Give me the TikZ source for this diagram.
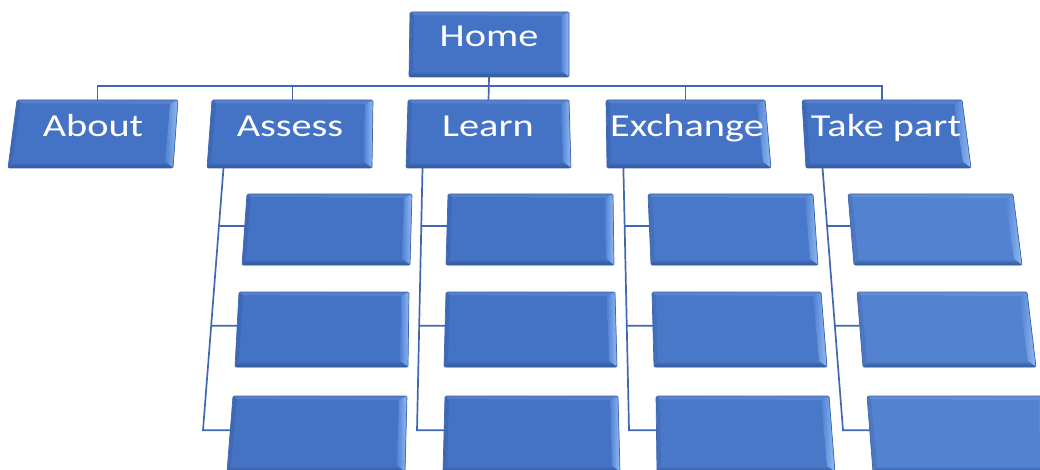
\documentclass[tikz,border=0pt]{standalone}
\usepackage{fontspec}
\setmainfont{Carlito}
\usetikzlibrary{calc}
\definecolor{boxblue}{HTML}{4472C4}
\definecolor{boxblueB}{HTML}{4A78C9}
\definecolor{boxblueC}{HTML}{5382D0}
\definecolor{linecol}{HTML}{4068B2}
\definecolor{bevlight}{HTML}{93BBF2}
\definecolor{bevin}{HTML}{4F80D2}
\definecolor{bevdark}{HTML}{2E5598}
\definecolor{boxedge}{HTML}{3C66B0}

\newcommand{\bbox}[6]{%
  \coordinate (#1-tl) at (#2);
  \coordinate (#1-tr) at (#3);
  \coordinate (#1-br) at (#4);
  \coordinate (#1-bl) at (#5);
  \coordinate (#1-tli) at ($(#1-tl)+(4,3)$);
  \coordinate (#1-tri) at ($(#1-tr)+(-8,4)$);
  \coordinate (#1-bri) at ($(#1-br)+(-8,-6)$);
  \coordinate (#1-bli) at ($(#1-bl)+(4,-6)$);
  \coordinate (#1-n) at ($(#1-tl)!0.5!(#1-tr)$);
  \coordinate (#1-s) at ($(#1-bl)!0.5!(#1-br)$);
  \coordinate (#1-w) at ($(#1-tl)!0.45!(#1-bl)$);
  \fill[#6, rounded corners=1.5pt] (#1-tl) -- (#1-tr) -- (#1-br) -- (#1-bl) -- cycle;
  \fill[black, opacity=0.07] (#1-tl) -- (#1-tli) -- (#1-bli) -- (#1-bl) -- cycle;
  \fill[white, opacity=0.10] (#1-tl) -- (#1-tr) -- (#1-tri) -- (#1-tli) -- cycle;
  \shade[left color=bevin, right color=bevlight] (#1-tri) -- (#1-tr) -- (#1-br) -- (#1-bri) -- cycle;
  \shade[top color=#6, bottom color=bevdark] (#1-bli) -- (#1-bri) -- (#1-br) -- (#1-bl) -- cycle;
  \draw[boxedge, line width=0.7pt, line join=round, rounded corners=1.5pt] (#1-tl) -- (#1-tr) -- (#1-br) -- (#1-bl) -- cycle;
}

\tikzset{
  lbl/.style={anchor=base, text=white, inner sep=0pt, font=\fontsize{32}{32}\selectfont},
  conn/.style={draw=linecol, line width=1.7pt}
}

\begin{document}
\begin{tikzpicture}[x=1pt, y=-1pt]
\useasboundingbox (0,0) rectangle (1040,470);
\clip (0,0) rectangle (1040,470);

\coordinate (busy) at (0,86);

% level 0 and 1 boxes
\bbox{home}{410,12}{569,12}{569,77}{409,77}{boxblue}
\bbox{about}{17,100}{178,100}{173,168}{8,168}{boxblue}
\bbox{assess}{212,100}{373,100}{372,168}{207,168}{boxblue}
\bbox{learn}{408,100}{569,100}{571,168}{406,168}{boxblue}
\bbox{exch}{606,100}{765,100}{771,168}{607,168}{boxblue}
\bbox{take}{802,100}{962,100}{971,168}{806,168}{boxblue}

% ---- connectors (level 1) ----
\draw[conn] (about-n) |- (take-n |- busy) -- (take-n);
\draw[conn] (assess-n) -- (assess-n |- busy);
\draw[conn] (exch-n) -- (exch-n |- busy);
\draw[conn] (home-s) -- (learn-n);

% ---- trunk coordinates ----
\coordinate (ast) at (223.5,168);   \coordinate (asb) at (203,430.2);
\coordinate (lnt) at (422.5,168);   \coordinate (lnb) at (417,430.2);
\coordinate (ext) at (623.4,168);   \coordinate (exb) at (629,430.2);
\coordinate (tkt) at (822.5,168);   \coordinate (tkb) at (843,430.2);
\coordinate (asj1) at (218.7,225.95); \coordinate (asj2) at (211.2,325.75);
\coordinate (lnj1) at (421.3,225.95); \coordinate (lnj2) at (419.2,325.75);
\coordinate (exj1) at (624.6,225.95); \coordinate (exj2) at (626.7,325.75);
\coordinate (tkj1) at (827.0,225.95); \coordinate (tkj2) at (834.7,325.75);

% children boxes
\bbox{a1}{247,194}{412,194}{410,265}{242,265}{boxblue}
\bbox{a2}{239,292}{409,292}{408,367}{235,367}{boxblue}
\bbox{a3}{233,396}{407,396}{405,472}{227,472}{boxblue}
\bbox{l1}{448,194}{613,194}{614,265}{446,265}{boxblue}
\bbox{l2}{446,292}{615,292}{617,367}{444,367}{boxblue}
\bbox{l3}{445,396}{618,396}{620,472}{443,472}{boxblue}
\bbox{e1}{648,194}{813,194}{818,265}{651,265}{boxblueB}
\bbox{e2}{652,292}{821,292}{827,367}{654,367}{boxblueB}
\bbox{e3}{656,396}{829,396}{835,472}{657,472}{boxblueB}
\bbox{t1}{848,194}{1013,194}{1022,265}{854,265}{boxblueC}
\bbox{t2}{857,292}{1027,292}{1036,367}{863,367}{boxblueC}
\bbox{t3}{867,396}{1045,396}{1050,472}{873,472}{boxblueC}

% ---- connectors (level 2) ----
\draw[conn] (ast) -- (asb) -- (a3-w);
\draw[conn] (asj1) -- (a1-w);
\draw[conn] (asj2) -- (a2-w);
\draw[conn] (lnt) -- (lnb) -- (l3-w);
\draw[conn] (lnj1) -- (l1-w);
\draw[conn] (lnj2) -- (l2-w);
\draw[conn] (ext) -- (exb) -- (e3-w);
\draw[conn] (exj1) -- (e1-w);
\draw[conn] (exj2) -- (e2-w);
\draw[conn] (tkt) -- (tkb) -- (t3-w);
\draw[conn] (tkj1) -- (t1-w);
\draw[conn] (tkj2) -- (t2-w);

% ---- labels ----
\node[lbl] (hometxt) at (489,47) {\scalebox{1.26}[1]{Home}};
\node[lbl] (abouttxt) at (93,137) {\scalebox{1.26}[1]{About}};
\node[lbl] (assesstxt) at (290,137) {\scalebox{1.26}[1]{Assess}};
\node[lbl] (learntxt) at (488,137) {\scalebox{1.26}[1]{Learn}};
\node[lbl] (exchtxt) at (687,137) {\scalebox{1.26}[1]{Exchange}};
\node[lbl] (taketxt) at (886,137) {\scalebox{1.26}[1]{Take part}};
\end{tikzpicture}
\end{document}
